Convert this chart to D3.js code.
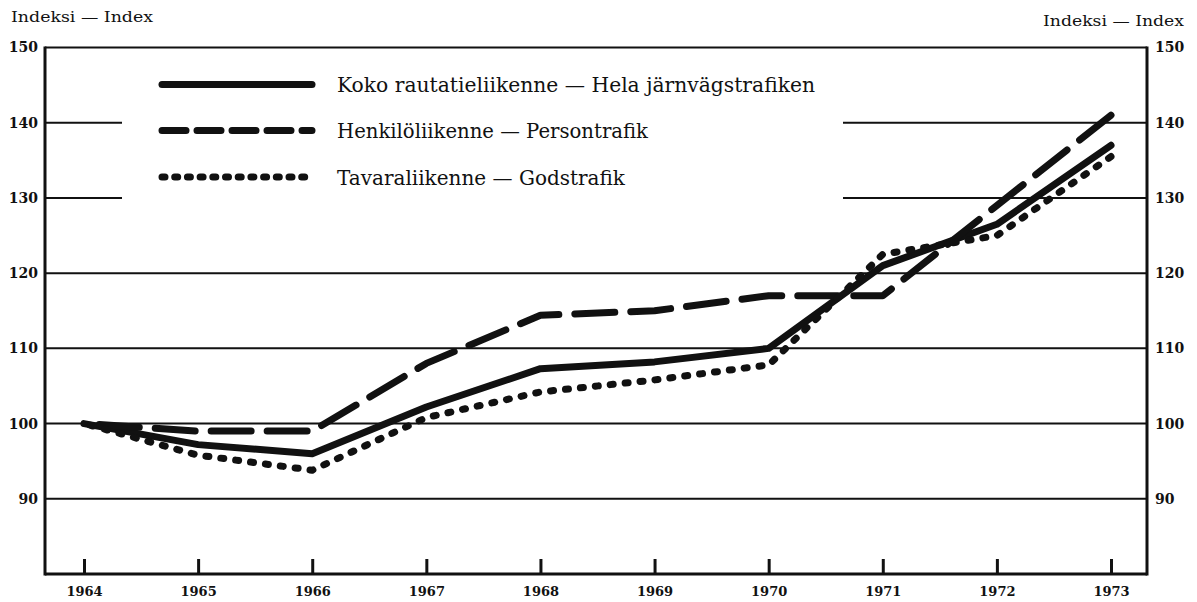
<!DOCTYPE html>
<html>
<head>
<meta charset="utf-8">
<script src="https://d3js.org/d3.v7.min.js"></script>
<style>
	body, html {
		margin: 0;
		padding: 0;
		background: #fff;
	}
	text {
		font-family: "DejaVu Serif", serif;
		fill: #111;
	}
	.legend-label { font-size: 21px; }
	.unit-label { font-size: 14px; }
	.grid line { stroke: #111; stroke-width: 2; }
	.series { fill: none; stroke: #111; stroke-width: 7; stroke-linejoin: round; stroke-linecap: round; }
</style>
</head>
<body>
<script>
	// data (index, 1964 = 100)
	var years = [1964, 1965, 1966, 1967, 1968, 1969, 1970, 1971, 1972, 1973];
	var koko = [100, 97.2, 96, 102.2, 107.3, 108.2, 110, 121, 126.5, 137];
	var henkilo = [100, 99, 99, 108, 114.4, 115, 117, 117, 129, 141];
	var tavara = [100, 95.8, 93.8, 100.8, 104.2, 105.8, 107.8, 122.5, 125, 135.5];
	var yTicks = [90, 100, 110, 120, 130, 140, 150];
	var gridValues = [90, 100, 110, 120, 130, 140, 150];

	var seriesNames = [
		"Koko rautatieliikenne — Hela järnvägstrafiken",
		"Henkilöliikenne — Persontrafik",
		"Tavaraliikenne — Godstrafik"
	];
	var unitLabel = "Indeksi — Index";

	var w = 1197, h = 602;
	var plotLeft = 45, plotRight = 1147, plotTop = 47.5, plotBottom = 574;

	var x = d3.scaleLinear().domain([1964, 1973]).range([84, 1111]);
	var y = d3.scaleLinear().domain([80, 150]).range([plotBottom, plotTop]);

	var svg = d3.select("body").append("svg")
		.attr("width", w)
		.attr("height", h);

	// horizontal grid lines
	svg.append("g").attr("class", "grid")
		.selectAll("line").data(gridValues).enter()
		.append("line")
		.attr("x1", plotLeft).attr("x2", plotRight)
		.attr("y1", function(d){ return y(d); })
		.attr("y2", function(d){ return y(d); });

	// white box behind the legend cuts the 140 and 130 lines
	svg.append("rect")
		.attr("x", 122).attr("y", y(147))
		.attr("width", 843 - 122).attr("height", y(124) - y(147))
		.attr("fill", "#fff");

	// frame: left, right, bottom
	var frame = svg.append("g").attr("stroke", "#111").attr("stroke-width", 3);
	frame.append("line").attr("x1", plotLeft).attr("x2", plotLeft).attr("y1", plotTop - 1).attr("y2", plotBottom + 1.5);
	frame.append("line").attr("x1", plotRight).attr("x2", plotRight).attr("y1", plotTop - 1).attr("y2", plotBottom + 1.5);
	frame.append("line").attr("x1", plotLeft).attr("x2", plotRight).attr("y1", plotBottom).attr("y2", plotBottom);

	// y axes (labels only)
	svg.append("g").attr("class", "tick-label")
		.attr("transform", "translate(" + plotLeft + ",0)")
		.call(d3.axisLeft(y).tickValues(yTicks).tickSize(0).tickPadding(7));
	svg.append("g").attr("class", "tick-label")
		.attr("transform", "translate(" + plotRight + ",0)")
		.call(d3.axisRight(y).tickValues(yTicks).tickSize(0).tickPadding(8));
	svg.selectAll(".tick-label .domain").remove();
	svg.selectAll(".tick-label text")
		.attr("font-family", "DejaVu Serif, serif")
		.attr("font-size", 14)
		.attr("font-weight", "bold")
		.attr("fill", "#111");

	// x axis with short ticks pointing up
	var xAxis = svg.append("g").attr("class", "year-axis")
		.attr("transform", "translate(0," + plotBottom + ")")
		.call(d3.axisBottom(x).tickValues(years).tickFormat(d3.format("d")).tickSizeInner(-15).tickSizeOuter(0).tickPadding(13));
	xAxis.select(".domain").remove();
	xAxis.selectAll(".tick line").attr("stroke", "#111").attr("stroke-width", 3);
	xAxis.selectAll("text")
		.attr("font-family", "DejaVu Serif, serif")
		.attr("font-size", 13)
		.attr("font-weight", "bold")
		.attr("fill", "#111");

	// unit labels
	svg.append("text").attr("class", "unit-label")
		.attr("x", 11).attr("y", 22)
		.attr("textLength", 142).attr("lengthAdjust", "spacingAndGlyphs")
		.text(unitLabel);
	svg.append("text").attr("class", "unit-label")
		.attr("x", 1043).attr("y", 26)
		.attr("textLength", 141).attr("lengthAdjust", "spacingAndGlyphs")
		.text(unitLabel);

	// series
	var line = d3.line()
		.x(function(d){ return x(d[0]); })
		.y(function(d){ return y(d[1]); });

	var series = [
		{ values: koko, dash: null, period: 0, dashLen: 0 },
		{ values: henkilo, dash: "40,16", period: 56, dashLen: 40 },
		{ values: tavara, dash: "3,12", period: 15, dashLen: 3 }
	];

	svg.selectAll(".series").data(series).enter()
		.append("path")
		.attr("class", "series")
		.attr("d", function(s){ return line(d3.zip(years, s.values)); })
		.attr("stroke-dasharray", function(s){ return s.dash; })
		.attr("stroke-dashoffset", function(s){
			// let the pattern finish on a dash at 1973
			if (!s.period) return null;
			var len = this.getTotalLength();
			return ((s.dashLen - len % s.period) % s.period + s.period) % s.period;
		});

	// legend
	var legendRows = [
		{ y: 84.5, dash: null, len: 478 },
		{ y: 130.5, dash: "24,11", len: 311 },
		{ y: 177, dash: "3,9.7", len: 288 }
	];
	var legend = svg.append("g");
	legend.selectAll(".legend-line").data(legendRows).enter()
		.append("line")
		.attr("class", "series")
		.attr("x1", 162).attr("x2", 312)
		.attr("y1", function(d){ return d.y; })
		.attr("y2", function(d){ return d.y; })
		.attr("stroke-dasharray", function(d){ return d.dash; });
	legend.selectAll(".legend-label").data(legendRows).enter()
		.append("text")
		.attr("class", "legend-label")
		.attr("x", 337)
		.attr("y", function(d){ return d.y + 7.5; })
		.attr("textLength", function(d){ return d.len; })
		.attr("lengthAdjust", "spacingAndGlyphs")
		.text(function(d, i){ return seriesNames[i]; });
</script>
</body>
</html>
